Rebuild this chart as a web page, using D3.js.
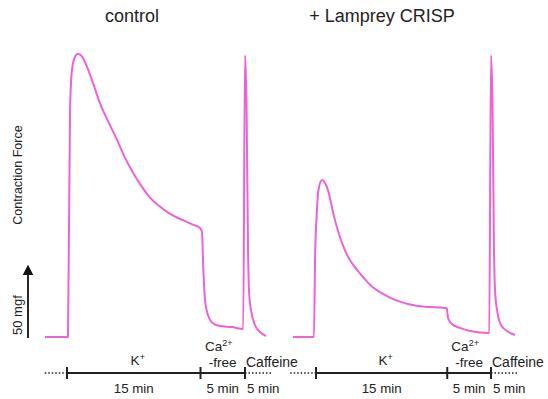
<!DOCTYPE html>
<html><head><meta charset="utf-8">
<script src="https://cdn.jsdelivr.net/npm/d3@7"></script>
<style>body{margin:0;background:#fff}svg{display:block}text{font-family:"Liberation Sans",Arial,sans-serif;fill:#222}</style>
</head><body><svg id="c" width="548" height="399"></svg>
<script>
// Panel titles
const panels = ["control", "+ Lamprey CRISP"];
// Trace: time (min, 0 = K+ application) and force (mgf above baseline)
const controlTime  = [-2.47,0.11,0.34,0.56,0.9,1.24,1.7,2.25,2.92,3.71,4.6,5.62,6.5,7.42,8.4,9.33,10.3,11.24,12.1,13.03,14.0,14.94,15.17,15.28,15.51,15.84,16.29,17.19,18.54,19.8,20.0,20.17,20.34,20.45,20.67,21.12,21.69,22.36];
const controlForce = [0,0,155,183,192,194,192,185,174,160,148,135,123,112.5,103,95.5,90,85.7,82.6,80,77.3,74.7,72,53,25,15,10,7.5,6.8,5.5,193,162,60,32,18.5,8.2,3.4,0.7];
const lampreyTime  = [-2.63,-0.23,-0.11,0.11,0.29,0.69,1.03,1.35,1.6,2.0,2.4,2.74,3.3,4.0,4.69,5.6,6.51,7.5,8.46,9.6,10.74,12.46,14.74,14.95,15.09,15.54,16.46,17.6,19.8,20.0,20.17,20.34,20.46,20.69,21.14,21.83,22.74];
const lampreyForce = [0,0,53,87,101,107.5,105.5,101,95,84,75,68.5,59.5,51.5,46,39.5,34,30,27,24.2,22.3,20.7,19.9,19.7,13,8.9,6.2,4.1,2.7,193,162,60,32,18.5,8.2,4.1,1.4];
// Protocol segments
const segLabels   = ["K+", "Ca2+-free", "Caffeine"];
const segStart    = [0, 15, 20];
const segEnd      = [15, 20, 23];
const segDuration = ["15 min", "5 min", "5 min"];
const scaleBarValue = 50; // mgf
const yLabel = "Contraction Force";

const svg = d3.select("#c");
const color = "#ef62d6";
const y = d3.scaleLinear().domain([0, scaleBarValue]).range([337, 264]);
const xs = [d3.scaleLinear().domain([0,20]).range([67,245]),
            d3.scaleLinear().domain([0,20]).range([316,491])];
const traces = [[controlTime, controlForce],[lampreyTime, lampreyForce]];
const preStart = [-2.5, -2.95];
const titleX = [132, 382];

traces.forEach(([t,f], i) => {
  const x = xs[i];
  const line = d3.line().x(d => x(d[0])).y(d => y(d[1])).curve(d3.curveMonotoneX);
  svg.append("path").datum(t.map((v,k)=>[v,f[k]]))
    .attr("d", line).attr("fill","none").attr("stroke",color)
    .attr("stroke-width",2).attr("stroke-linejoin","round");
  svg.append("text").attr("x", titleX[i]).attr("y", 22).attr("text-anchor","middle")
    .attr("font-size", 18).text(panels[i]);

  // timeline
  const ty = 373;
  const g = svg.append("g").attr("stroke","#222");
  g.append("line").attr("x1",x(preStart[i])).attr("x2",x(0)).attr("y1",ty).attr("y2",ty)
    .attr("stroke-width",1.5).attr("stroke-dasharray","1.5,2");
  g.append("line").attr("x1",x(segStart[0])).attr("x2",x(segEnd[1])).attr("y1",ty).attr("y2",ty)
    .attr("stroke-width",1.8);
  g.append("line").attr("x1",x(segStart[2])).attr("x2",x(segEnd[2])).attr("y1",ty).attr("y2",ty)
    .attr("stroke-width",1.5).attr("stroke-dasharray","1.5,2");
  [0,15,20].forEach(v => g.append("line").attr("x1",x(v)).attr("x2",x(v))
    .attr("y1",ty-6).attr("y2",ty+6).attr("stroke-width",2));

  // segment labels
  const kx = x((segStart[0]+segEnd[0])/2);
  const kt = svg.append("text").attr("x",kx+4).attr("y",365).attr("text-anchor","middle").attr("font-size",13.5);
  kt.append("tspan").text("K");
  kt.append("tspan").attr("font-size",9).attr("dy",-5).text("+");
  const cx = x((segStart[1]+segEnd[1])/2);
  const ct = svg.append("text").attr("x",cx-4).attr("y",351).attr("text-anchor","middle").attr("font-size",13.5);
  ct.append("tspan").text("Ca");
  ct.append("tspan").attr("font-size",9).attr("dy",-5).text("2+");
  svg.append("text").attr("x",cx).attr("y",367).attr("text-anchor","middle").attr("font-size",13.5).text("-free");
  svg.append("text").attr("x",x(segStart[2])+1).attr("y",367).attr("text-anchor","start").attr("font-size",14).text(segLabels[2]);
  // durations
  svg.append("text").attr("x",x(7.5)).attr("y",393).attr("text-anchor","middle").attr("font-size",13.3).text(segDuration[0]);
  svg.append("text").attr("x",x(17.5)).attr("y",393).attr("text-anchor","middle").attr("font-size",13.3).text(segDuration[1]);
  svg.append("text").attr("x",x(20)+2).attr("y",393).attr("text-anchor","start").attr("font-size",13.3).text(segDuration[2]);
});

// y label
svg.append("text").attr("transform","translate(22,175) rotate(-90)").attr("text-anchor","middle")
  .attr("font-size",12.5).text(yLabel);
// scale bar arrow
svg.append("defs").append("marker").attr("id","ah").attr("viewBox","0 0 10 10")
  .attr("refX",5).attr("refY",5).attr("markerWidth",6).attr("markerHeight",6).attr("orient","auto")
  .append("path").attr("d","M0,0 L10,5 L0,10 z").attr("fill","#111");
svg.append("line").attr("x1",28).attr("x2",28).attr("y1",y(0)+1).attr("y2",y(scaleBarValue)+6)
  .attr("stroke","#111").attr("stroke-width",1.8).attr("marker-end","url(#ah)");
svg.append("text").attr("transform",`translate(22,${(y(0)+y(scaleBarValue*0.6))/2}) rotate(-90)`)
  .attr("text-anchor","middle").attr("font-size",13).text(scaleBarValue + " mgf");
</script></body></html>
